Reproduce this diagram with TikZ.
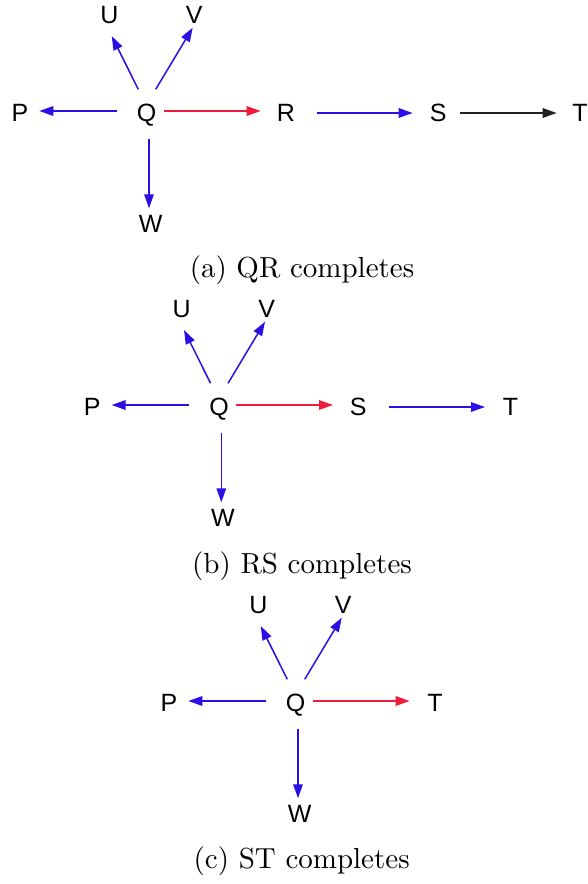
\documentclass[tikz,border=0pt]{standalone}
\usepackage{fontspec}
\usetikzlibrary{arrows.meta}
\newfontfamily\lblfont{Liberation Sans}
\definecolor{arrblue}{HTML}{2A10E6}
\definecolor{arrred}{HTML}{EC1C3A}
\definecolor{arrblack}{HTML}{222222}
\tikzset{
    lbl/.style={font=\lblfont\fontsize{25}{28}\selectfont, inner sep=0pt,
                text height=17.9pt, text depth=0pt},
    captxt/.style={font=\fontsize{10}{12}\selectfont, scale=2.9, inner sep=0pt},
    arr/.style={-{Triangle[length=14pt, width=9.5pt]}, line width=1.5pt, arrblue},
    hot/.style={arr, arrred},
    done/.style={arr, arrblack}
}

\begin{document}
\begin{tikzpicture}[x=1pt, y=-1pt]
    \useasboundingbox (0,0) rectangle (588,884);
    % (a) QR completes
    \node[lbl] (Ua) at (109.3,15) {U};
    \node[lbl] (Va) at (194.3,15) {V};
    \node[lbl] (Pa) at (20,113) {P};
    \node[lbl] (Qa) at (146.7,113) {Q};
    \node[lbl] (Ra) at (286,113) {R};
    \node[lbl] (Sa) at (438.3,113) {S};
    \node[lbl] (Ta) at (580,113) {T};
    \node[lbl] (Wa) at (150.7,223.3) {W};
    \draw[arr] ([shift={(-8.4,-23.7)}]Qa.center) -- ([shift={(2.4,21)}]Ua.center);
    \draw[arr] ([shift={(9,-23.7)}]Qa.center) -- ([shift={(-1.6,12.7)}]Va.center);
    \draw[arr] ([shift={(-30,-2)}]Qa.center) -- ([shift={(19.3,-2)}]Pa.center);
    \draw[hot] ([shift={(17.3,-2)}]Qa.center) -- ([shift={(-25.3,-2)}]Ra.center);
    \draw[arr] ([shift={(2.3,26.3)}]Qa.center) -- ([shift={(-1.7,-15)}]Wa.center);
    \draw[arr] ([shift={(30.7,0)}]Ra.center) -- ([shift={(-25.6,0)}]Sa.center);
    \draw[done] ([shift={(21.7,0)}]Sa.center) -- ([shift={(-23.3,0)}]Ta.center);
    \node[captxt] (capa) at (302,270) {(a) QR completes};

    % (b) RS completes
    \begin{scope}[shift={(72.3,294)}]
        \node[lbl] (Ub) at (109.3,15) {U};
        \node[lbl] (Vb) at (194.3,15) {V};
        \node[lbl] (Pb) at (20,113) {P};
        \node[lbl] (Qb) at (146.7,113) {Q};
        \node[lbl] (Sb) at (286,113) {S};
        \node[lbl] (Tb) at (438.3,113) {T};
        \node[lbl] (Wb) at (150.7,223.3) {W};
        \draw[arr] ([shift={(-8.4,-23.7)}]Qb.center) -- ([shift={(2.4,21)}]Ub.center);
        \draw[arr] ([shift={(9,-23.7)}]Qb.center) -- ([shift={(-1.6,12.7)}]Vb.center);
        \draw[arr] ([shift={(-30,-2)}]Qb.center) -- ([shift={(19.3,-2)}]Pb.center);
        \draw[hot] ([shift={(17.3,-2)}]Qb.center) -- ([shift={(-25.3,-2)}]Sb.center);
        \draw[arr] ([shift={(2.3,26.3)}]Qb.center) -- ([shift={(-1.7,-15)}]Wb.center);
        \draw[arr] ([shift={(30.7,0)}]Sb.center) -- ([shift={(-25.6,0)}]Tb.center);
    \end{scope}
    \node[captxt] (capb) at (302,566.7) {(b) RS completes};

    % (c) ST completes
    \begin{scope}[shift={(149,590)}]
        \node[lbl] (Uc) at (109.3,15) {U};
        \node[lbl] (Vc) at (194.3,15) {V};
        \node[lbl] (Pc) at (20,113) {P};
        \node[lbl] (Qc) at (146.7,113) {Q};
        \node[lbl] (Tc) at (286,113) {T};
        \node[lbl] (Wc) at (150.7,223.3) {W};
        \draw[arr] ([shift={(-8.4,-23.7)}]Qc.center) -- ([shift={(2.4,21)}]Uc.center);
        \draw[arr] ([shift={(9,-23.7)}]Qc.center) -- ([shift={(-1.6,12.7)}]Vc.center);
        \draw[arr] ([shift={(-30,-2)}]Qc.center) -- ([shift={(19.3,-2)}]Pc.center);
        \draw[hot] ([shift={(17.3,-2)}]Qc.center) -- ([shift={(-25.3,-2)}]Tc.center);
        \draw[arr] ([shift={(2.3,26.3)}]Qc.center) -- ([shift={(-1.7,-15)}]Wc.center);
    \end{scope}
    \node[captxt] (capc) at (301.7,861.7) {(c) ST completes};
\end{tikzpicture}
\end{document}
